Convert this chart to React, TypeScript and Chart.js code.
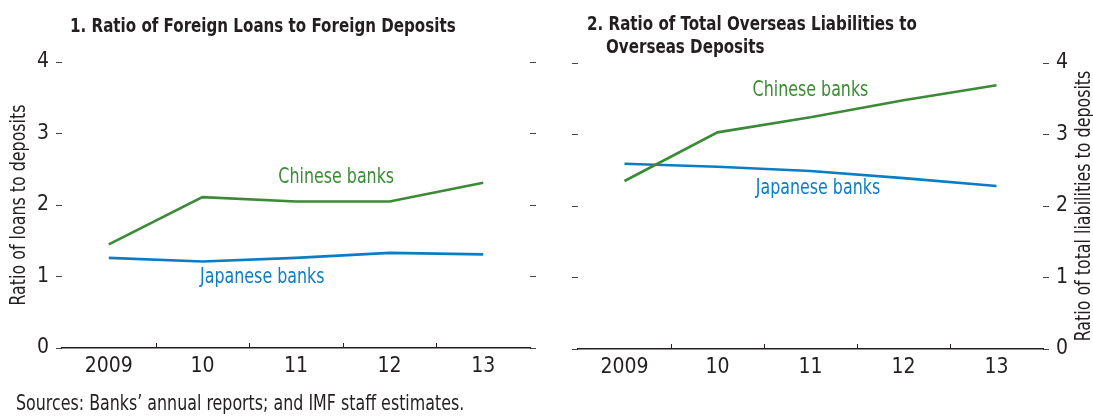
import React, { useEffect, useRef } from "react";
import { Chart, registerables } from "chart.js";

Chart.register(...registerables);

// ---------- data ----------
const years = ["2009", "10", "11", "12", "13"];
const loansChinese = [1.45, 2.11, 2.05, 2.05, 2.31];
const loansJapanese = [1.26, 1.21, 1.26, 1.33, 1.31];
const liabChinese = [2.35, 3.03, 3.24, 3.48, 3.69];
const liabJapanese = [2.59, 2.55, 2.49, 2.39, 2.28];
const yTickValues = [0, 1, 2, 3, 4];

// ---------- style ----------
const GREEN = "#3b8a36";
const BLUE = "#0b7dc3";
const INK = "#231f20";
const TICK = "#444444";
const FONT = '"Liberation Sans Narrow", "DejaVu Sans Condensed", "Arial Narrow", sans-serif';
const NARROW = 0.84; // horizontal condensing for annotation text
const W = 1093;
const H = 416;

type Note = { text: string; x: number; y: number; color: string };
type TitleLine = { text: string; x: number; y: number };

type PanelCfg = {
  left: number;
  width: number;
  padTop: number;
  axisLeftW: number;
  axisRightW: number;
  xAxisH: number;
  labeledRight: boolean;
  chinese: number[];
  japanese: number[];
  notes: Note[];
  titleLines: TitleLine[];
  yTitle: string;
  yTitleX: number;
  footer?: TitleLine;
};

const panel1: PanelCfg = {
  left: 0,
  width: 550,
  padTop: 62,
  axisLeftW: 62,
  axisRightW: 20,
  xAxisH: 68,
  labeledRight: false,
  chinese: loansChinese,
  japanese: loansJapanese,
  notes: [
    { text: "Chinese banks", x: 2.43, y: 2.38, color: GREEN },
    { text: "Japanese banks", x: 1.64, y: 0.98, color: BLUE },
  ],
  titleLines: [{ text: "1. Ratio of Foreign Loans to Foreign Deposits", x: 70, y: 27 }],
  yTitle: "Ratio of loans to deposits",
  yTitleX: 20,
  footer: { text: "Sources: Banks\u2019 annual reports; and IMF staff estimates.", x: 16, y: 405 },
};

const panel2: PanelCfg = {
  left: 550,
  width: 543,
  padTop: 63,
  axisLeftW: 28,
  axisRightW: 50,
  xAxisH: 67,
  labeledRight: true,
  chinese: liabChinese,
  japanese: liabJapanese,
  notes: [
    { text: "Chinese banks", x: 2.0, y: 3.61, color: GREEN },
    { text: "Japanese banks", x: 2.08, y: 2.24, color: BLUE },
  ],
  titleLines: [
    { text: "2. Ratio of Total Overseas Liabilities to", x: 37, y: 25 },
    { text: "Overseas Deposits", x: 56, y: 48 },
  ],
  yTitle: "Ratio of total liabilities to deposits",
  yTitleX: 535,
};

function narrowText(ctx: any, text: string, x: number, y: number, rotate = 0) {
  ctx.save();
  ctx.translate(x, y);
  if (rotate) ctx.rotate(rotate);
  ctx.scale(NARROW, 1);
  ctx.fillText(text, 0, 0);
  ctx.restore();
}

function makeDecor(cfg: PanelCfg) {
  return {
    id: "panelDecor",
    afterDraw(chart: any) {
      const { ctx, chartArea, scales } = chart;
      const x = scales.x;
      const y = cfg.labeledRight ? scales.y2 : scales.y;
      ctx.save();
      // inward tick marks between categories
      ctx.strokeStyle = INK;
      ctx.lineWidth = 1;
      for (let i = 0; i < years.length - 1; i++) {
        const px = Math.round((x.getPixelForValue(i) + x.getPixelForValue(i + 1)) / 2) + 0.5;
        ctx.beginPath();
        ctx.moveTo(px, chartArea.bottom);
        ctx.lineTo(px, chartArea.bottom - 5);
        ctx.stroke();
      }
      // series labels
      ctx.font = `21px ${FONT}`;
      ctx.textAlign = "center";
      ctx.textBaseline = "middle";
      cfg.notes.forEach((n) => {
        ctx.fillStyle = n.color;
        narrowText(ctx, n.text, x.getPixelForValue(n.x), y.getPixelForValue(n.y));
      });
      // titles
      ctx.fillStyle = INK;
      ctx.textAlign = "left";
      ctx.font = `bold 20px ${FONT}`;
      cfg.titleLines.forEach((t) => narrowText(ctx, t.text, t.x, t.y));
      // footer
      if (cfg.footer) {
        ctx.font = `21px ${FONT}`;
        narrowText(ctx, cfg.footer.text, cfg.footer.x, cfg.footer.y);
      }
      // y title
      ctx.font = `21px ${FONT}`;
      ctx.textAlign = "center";
      narrowText(ctx, cfg.yTitle, cfg.yTitleX, (chartArea.top + chartArea.bottom) / 2, -Math.PI / 2);
      ctx.restore();
    },
  };
}

function yAxis(position: "left" | "right", showLabels: boolean, width: number) {
  return {
    type: "linear",
    position,
    min: 0,
    max: 4,
    afterBuildTicks: (s: any) => {
      s.ticks = yTickValues.map((v) => ({ value: v }));
    },
    ticks: {
      display: showLabels,
      font: { family: FONT, size: 21 },
      color: INK,
      padding: 7,
    },
    grid: {
      drawOnChartArea: false,
      drawTicks: true,
      tickLength: 6,
      color: TICK,
      lineWidth: 1,
    },
    border: { display: false },
    afterFit: (s: any) => {
      s.width = width;
    },
  };
}

function Panel({ cfg }: { cfg: PanelCfg }) {
  const ref = useRef<HTMLCanvasElement | null>(null);
  useEffect(() => {
    if (!ref.current) return;
    const axisId = cfg.labeledRight ? "y2" : "y";
    const chart = new Chart(ref.current, {
      type: "line",
      data: {
        labels: years,
        datasets: [
          {
            label: "Chinese banks",
            data: cfg.chinese,
            borderColor: GREEN,
            borderWidth: 2.6,
            pointRadius: 0,
            tension: 0,
            yAxisID: axisId,
          },
          {
            label: "Japanese banks",
            data: cfg.japanese,
            borderColor: BLUE,
            borderWidth: 2.6,
            pointRadius: 0,
            tension: 0,
            yAxisID: axisId,
          },
        ],
      },
      options: {
        animation: false,
        responsive: false,
        devicePixelRatio: 1,
        layout: { padding: { top: cfg.padTop, left: 0, right: 0, bottom: 0 } },
        plugins: { legend: { display: false }, tooltip: { enabled: false }, title: { display: false } },
        scales: {
          x: {
            type: "category",
            offset: true,
            grid: { display: false, drawTicks: false },
            border: { display: true, color: INK, width: 1.5 },
            ticks: {
              font: { family: FONT, size: 21 },
              color: INK,
              padding: 6,
              maxRotation: 0,
              autoSkip: false,
            },
            afterFit: (s: any) => {
              s.height = cfg.xAxisH;
            },
          },
          y: yAxis("left", !cfg.labeledRight, cfg.axisLeftW),
          y2: yAxis("right", cfg.labeledRight, cfg.axisRightW),
        } as any,
      },
      plugins: [makeDecor(cfg)],
    } as any);
    return () => chart.destroy();
  }, [cfg]);
  return (
    <canvas
      ref={ref}
      width={cfg.width}
      height={H}
      style={{ position: "absolute", left: cfg.left, top: 0, width: cfg.width, height: H }}
    />
  );
}

export default function App() {
  return (
    <div style={{ position: "absolute", left: 0, top: 0, width: W, height: H, background: "#ffffff" }}>
      <Panel cfg={panel1} />
      <Panel cfg={panel2} />
    </div>
  );
}
